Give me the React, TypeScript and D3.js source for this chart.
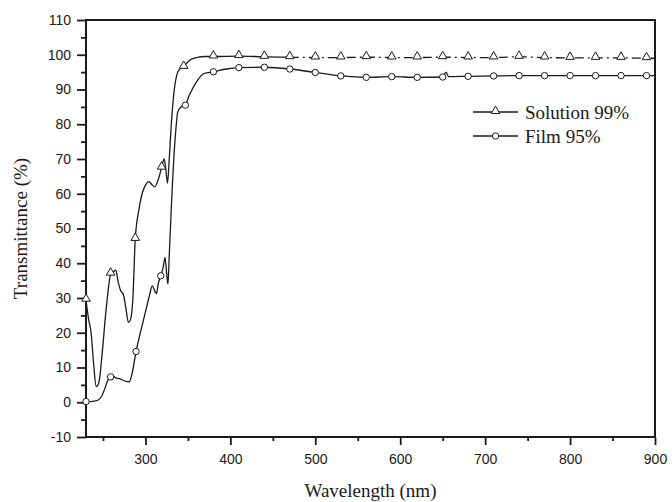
import { useEffect, useRef } from 'react'
import * as d3 from 'd3'

// wavelength (nm) and transmittance (%)
const solutionNm = [230, 233, 236, 239, 242, 245, 249, 253, 257, 259, 262, 265, 268, 271, 274, 277, 280, 282, 285, 288, 292, 296, 300, 304, 308, 311, 315, 319, 322, 324, 326, 328, 331, 334, 338, 341, 345, 350, 355, 362, 370, 380, 410, 440, 470, 500, 530, 560, 590, 620, 650, 680, 710, 740, 770, 800, 830, 860, 890, 900]
const solutionT = [29.5, 24, 20, 11, 4.5, 5.5, 14, 25, 34, 37, 37.5, 38, 34.5, 32, 31, 27, 23, 23.5, 29, 47, 55, 60, 62.5, 63.5, 62.5, 62, 64, 67.5, 70, 67, 63, 70, 82, 90, 95, 96, 96.5, 98, 98.8, 99.3, 99.5, 99.5, 99.6, 99.4, 99.3, 99.2, 99.2, 99.3, 99.2, 99.2, 99.3, 99.2, 99.2, 99.4, 99.2, 99.1, 99.1, 99.1, 99.0, 99.0]

const filmNm = [230, 235, 240, 245, 249, 253, 256, 259, 262, 265, 269, 273, 277, 281, 284, 289, 293, 297, 301, 305, 308, 311, 313, 315, 318, 321, 323, 325, 326.5, 328, 330, 332, 334, 336, 338, 342, 347, 351, 355, 363, 369, 380, 395, 410, 440, 470, 500, 530, 560, 590, 620, 650, 654, 657, 680, 710, 740, 770, 800, 830, 860, 890, 900]
const filmT = [0.2, 0.2, 0.3, 0.7, 2, 4.5, 6.5, 7.3, 7.5, 7, 6.8, 6.4, 6, 5.9, 8, 14.6, 19, 23, 27, 31, 33.5, 32, 31.3, 34, 36.4, 39, 41.7, 37, 34, 42, 53.4, 64, 72.6, 79, 83.5, 85, 85.5, 88, 90, 93.2, 94.6, 95.1, 95.9, 96.3, 96.4, 95.9, 94.9, 93.9, 93.5, 93.7, 93.5, 93.6, 95, 93.7, 93.8, 93.9, 94, 94, 94, 94, 94, 94, 94]

// wavelengths carrying a symbol
const solutionMarks = [230, 259, 288, 319, 345, 380, 410, 440, 470, 500, 530, 560, 590, 620, 650, 680, 710, 740, 770, 800, 830, 860, 890]
const filmMarks = [230, 259, 289, 318, 347, 380, 410, 440, 470, 500, 530, 560, 590, 620, 650, 680, 710, 740, 770, 800, 830, 860, 890]

const xTicks = [300, 400, 500, 600, 700, 800, 900]
const yTicks = [-10, 0, 10, 20, 30, 40, 50, 60, 70, 80, 90, 100, 110]
const legendLabels = ['Solution 99%', 'Film 95%']

type Pt = { nm: number; t: number }

export default function App() {
  const svgRef = useRef<SVGSVGElement>(null)

  useEffect(() => {
    if (!svgRef.current) return
    const svg = d3.select(svgRef.current)
    svg.selectAll('*').remove()

    const left = 86, right = 655, top = 20, bottom = 437
    const ink = '#1a1a1a'

    const x = d3.scaleLinear().domain([230, 900]).range([left, right])
    const y = d3.scaleLinear().domain([-10, 110]).range([bottom, top])

    const solution: Pt[] = solutionNm.map((nm, i) => ({ nm, t: solutionT[i] }))
    const film: Pt[] = filmNm.map((nm, i) => ({ nm, t: filmT[i] }))

    const line = d3
      .line<Pt>()
      .x(d => x(d.nm))
      .y(d => y(d.t))
      .curve(d3.curveMonotoneX)

    // axes (plain hyphen for negatives, like the original)
    const fmt = (d: d3.NumberValue) => String(d)
    const xAxis = d3.axisBottom(x).tickValues(xTicks).tickSize(8).tickPadding(9).tickFormat(fmt)
    const xMinor = d3.axisBottom(x).tickValues(d3.range(250, 900, 100)).tickSize(4).tickFormat(() => '')
    const yAxis = d3.axisLeft(y).tickValues(yTicks).tickSize(9).tickPadding(6).tickFormat(fmt)
    const yMinor = d3.axisLeft(y).tickValues(d3.range(-5, 110, 10)).tickSize(5).tickFormat(() => '')

    const gx = svg.append('g').attr('transform', `translate(0,${bottom})`).call(xAxis)
    svg.append('g').attr('transform', `translate(0,${bottom})`).call(xMinor)
    const gy = svg.append('g').attr('transform', `translate(${left},0)`).call(yAxis)
    svg.append('g').attr('transform', `translate(${left},0)`).call(yMinor)

    svg.selectAll('.domain').remove()
    svg.selectAll('.tick line').attr('stroke', ink).attr('stroke-width', 1.8)
    ;[gx, gy].forEach(g =>
      g
        .selectAll('text')
        .attr('fill', ink)
        .style('font-family', 'Liberation Sans, Arial, sans-serif')
        .style('font-size', '14px')
    )

    // frame
    svg
      .append('rect')
      .attr('x', left)
      .attr('y', top)
      .attr('width', right - left)
      .attr('height', bottom - top)
      .attr('fill', 'none')
      .attr('stroke', ink)
      .attr('stroke-width', 2)

    // series
    svg
      .append('path')
      .datum(solution.filter(d => d.nm <= 470))
      .attr('fill', 'none')
      .attr('stroke', ink)
      .attr('stroke-width', 1.3)
      .attr('d', line)
    svg
      .append('path')
      .datum(solution.filter(d => d.nm >= 470))
      .attr('fill', 'none')
      .attr('stroke', ink)
      .attr('stroke-width', 1.3)
      .attr('stroke-dasharray', '9,4,2,4')
      .attr('d', line)
    svg
      .append('path')
      .datum(film)
      .attr('fill', 'none')
      .attr('stroke', ink)
      .attr('stroke-width', 1.3)
      .attr('d', line)

    const tri = d3.symbol().type(d3.symbolTriangle).size(32)
    svg
      .selectAll('.tri')
      .data(solution.filter(d => solutionMarks.includes(d.nm)))
      .join('path')
      .attr('class', 'tri')
      .attr('transform', d => `translate(${x(d.nm)},${y(d.t) - 1})`)
      .attr('d', tri)
      .attr('fill', 'white')
      .attr('stroke', ink)
      .attr('stroke-width', 1)

    svg
      .selectAll('.circ')
      .data(film.filter(d => filmMarks.includes(d.nm)))
      .join('circle')
      .attr('class', 'circ')
      .attr('cx', d => x(d.nm))
      .attr('cy', d => y(d.t))
      .attr('r', 3.2)
      .attr('fill', 'white')
      .attr('stroke', ink)
      .attr('stroke-width', 1)

    // legend
    const lg = svg.append('g').attr('transform', 'translate(473,112)')
    legendLabels.forEach((label, i) => {
      const row = lg.append('g').attr('transform', `translate(0,${i * 24})`)
      row.append('line').attr('x1', 0).attr('x2', 45).attr('stroke', ink).attr('stroke-width', 1.3)
      if (i === 0) {
        row.append('path').attr('d', tri).attr('transform', 'translate(22.5,-1)').attr('fill', 'white').attr('stroke', ink)
      } else {
        row.append('circle').attr('cx', 22.5).attr('r', 3.2).attr('fill', 'white').attr('stroke', ink)
      }
      row
        .append('text')
        .attr('x', 52)
        .attr('y', 7)
        .attr('fill', ink)
        .style('font-family', 'Liberation Serif, Times New Roman, serif')
        .style('font-size', '19px')
        .text(label)
    })

    // axis titles
    svg
      .append('text')
      .attr('x', (left + right) / 2)
      .attr('y', 497)
      .attr('text-anchor', 'middle')
      .attr('fill', ink)
      .style('font-family', 'Liberation Serif, Times New Roman, serif')
      .style('font-size', '19px')
      .text('Wavelength (nm)')

    svg
      .append('text')
      .attr('transform', `translate(27,${(top + bottom) / 2}) rotate(-90)`)
      .attr('text-anchor', 'middle')
      .attr('fill', ink)
      .style('font-family', 'Liberation Serif, Times New Roman, serif')
      .style('font-size', '19px')
      .text('Transmittance (%)')
  }, [])

  return (
    <svg
      ref={svgRef}
      width={672}
      height={502}
      style={{ position: 'absolute', left: 0, top: 0, background: 'white' }}
    />
  )
}
